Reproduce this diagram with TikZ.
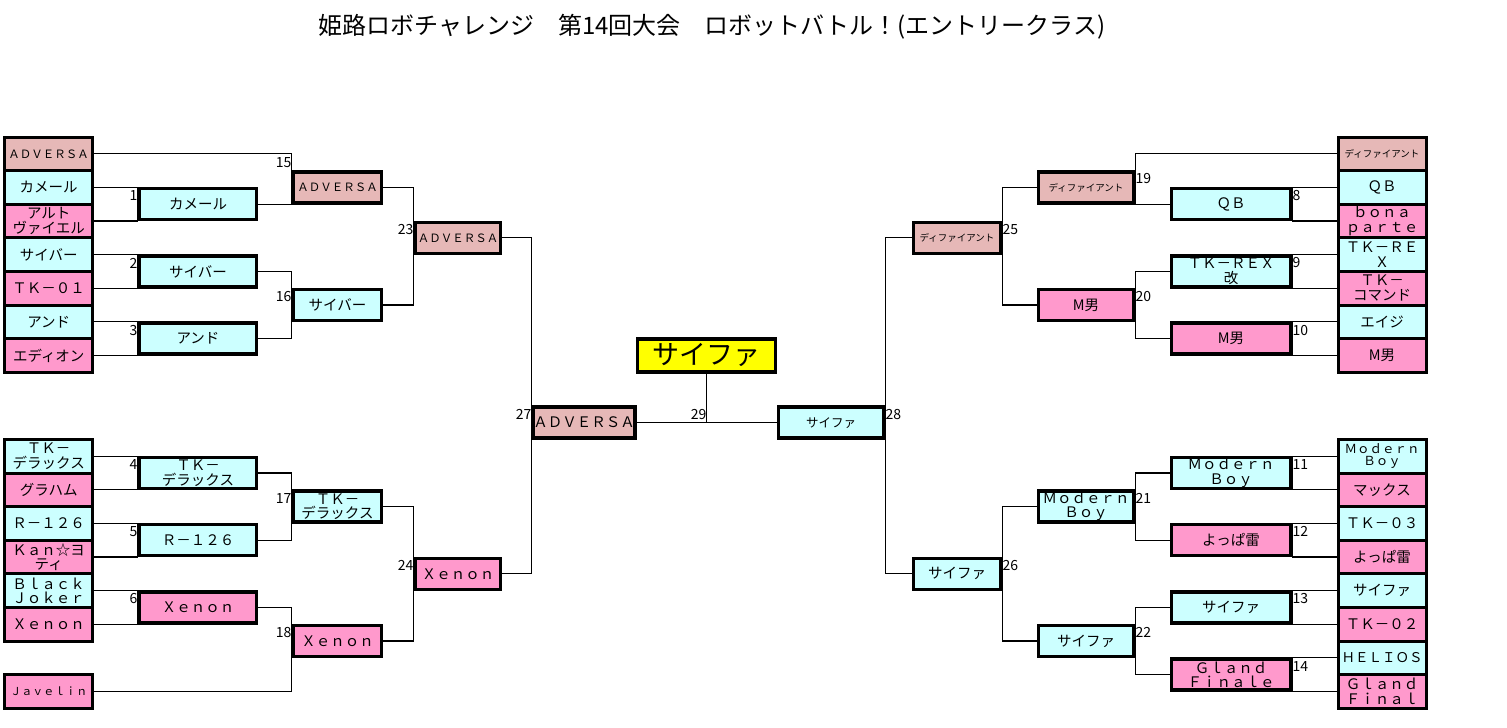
\documentclass[tikz,border=0pt]{standalone}
\usepackage{fontspec}
\setmainfont{Noto Sans CJK JP}
\usepackage{xcolor}
\usetikzlibrary{backgrounds}

\definecolor{rosecell}{HTML}{E6B8B7}
\definecolor{cyancell}{HTML}{CCFFFF}
\definecolor{pinkcell}{HTML}{FF99CC}
\definecolor{champcell}{HTML}{FFFF00}
\newcommand{\fsz}[1]{\fontsize{#1}{#1}\selectfont}

\begin{document}
\begin{tikzpicture}[
    x=1pt, y=-1pt,
    cell/.style={draw, line width=3pt, minimum width=88pt, minimum height=33.6pt, inner sep=0pt, align=center, font=\fsz{14.5}},
    match/.style={draw, line width=3.5pt, minimum height=31pt, inner sep=0pt, align=center, font=\fsz{14.5}},
    link/.style={line width=1.1pt},
    num/.style={inner sep=0.5pt, font=\fsz{14}}
]
    \useasboundingbox (0,0) rectangle (1507,728);

    % Title
    \node[anchor=west, font=\fsz{24}] (title) at (315,27) {姫路ロボチャレンジ　第14回大会　ロボットバトル！(エントリークラス)};

    \begin{scope}[y=-16.8pt, yshift=-137pt]
    % Entries left
    \node[cell, fill=rosecell, font=\fsz{11.5}] (a1) at (48.75,1) {ＡＤＶＥＲＳＡ};
    \node[cell, fill=cyancell] (a2) at (48.75,3) {カメール};
    \node[cell, fill=pinkcell] (a3) at (48.75,5) {アルト\\ヴァイエル};
    \node[cell, fill=cyancell] (a4) at (48.75,7) {サイバー};
    \node[cell, fill=pinkcell] (a5) at (48.75,9) {ＴＫ－０１};
    \node[cell, fill=cyancell] (a6) at (48.75,11) {アンド};
    \node[cell, fill=pinkcell] (a7) at (48.75,13) {エディオン};
    \node[cell, fill=cyancell] (a8) at (48.75,19) {ＴＫ－\\デラックス};
    \node[cell, fill=pinkcell] (a9) at (48.75,21) {グラハム};
    \node[cell, fill=cyancell] (a10) at (48.75,23) {Ｒ－１２６};
    \node[cell, fill=pinkcell] (a11) at (48.75,25) {Ｋａｎ☆ヨ\\ティ};
    \node[cell, fill=cyancell] (a12) at (48.75,27) {Ｂｌａｃｋ\\Ｊｏｋｅｒ};
    \node[cell, fill=pinkcell] (a13) at (48.75,29) {Ｘｅｎｏｎ};
    \node[cell, fill=pinkcell, font=\fsz{11}] (a14) at (48.75,33) {Ｊａｖｅｌｉｎ};

    % Entries right
    \node[cell, fill=rosecell, font=\fsz{9.5}] (b1) at (1382,1) {ディファイアント};
    \node[cell, fill=cyancell] (b2) at (1382,3) {ＱＢ};
    \node[cell, fill=pinkcell] (b3) at (1382,5) {ｂｏｎａ\\ｐａｒｔｅ};
    \node[cell, fill=cyancell] (b4) at (1382,7) {ＴＫ－ＲＥ\\Ｘ};
    \node[cell, fill=pinkcell] (b5) at (1382,9) {ＴＫ－\\コマンド};
    \node[cell, fill=cyancell] (b6) at (1382,11) {エイジ};
    \node[cell, fill=pinkcell] (b7) at (1382,13) {M男};
    \node[cell, fill=cyancell, font=\fsz{12.5}] (b8) at (1382,19) {Ｍｏｄｅｒｎ\\Ｂｏｙ};
    \node[cell, fill=pinkcell] (b9) at (1382,21) {マックス};
    \node[cell, fill=cyancell] (b10) at (1382,23) {ＴＫ－０３};
    \node[cell, fill=pinkcell] (b11) at (1382,25) {よっぱ雷};
    \node[cell, fill=cyancell] (b12) at (1382,27) {サイファ};
    \node[cell, fill=pinkcell] (b13) at (1382,29) {ＴＫ－０２};
    \node[cell, fill=cyancell, font=\fsz{13.5}] (b14) at (1382,31) {ＨＥＬＩＯＳ};
    \node[cell, fill=pinkcell] (b15) at (1382,33) {Ｇｌａｎｄ\\Ｆｉｎａｌ};

    % Round 1
    \node[match, fill=cyancell, minimum width=117pt] (m1) at (198,4) {カメール};
    \node[match, fill=cyancell, minimum width=117pt] (m2) at (198,8) {サイバー};
    \node[match, fill=cyancell, minimum width=117pt] (m3) at (198,12) {アンド};
    \node[match, fill=cyancell, minimum width=117pt] (m4) at (198,20) {ＴＫ－\\デラックス};
    \node[match, fill=cyancell, minimum width=117pt] (m5) at (198,24) {Ｒ－１２６};
    \node[match, fill=pinkcell, minimum width=117pt] (m6) at (198,28) {Ｘｅｎｏｎ};
    \node[match, fill=cyancell, minimum width=119pt] (m8) at (1231,4) {ＱＢ};
    \node[match, fill=cyancell, minimum width=119pt] (m9) at (1231,8) {ＴＫ－ＲＥＸ\\改};
    \node[match, fill=pinkcell, minimum width=119pt] (m10) at (1231,12) {M男};
    \node[match, fill=cyancell, minimum width=119pt] (m11) at (1231,20) {Ｍｏｄｅｒｎ\\Ｂｏｙ};
    \node[match, fill=pinkcell, minimum width=119pt] (m12) at (1231,24) {よっぱ雷};
    \node[match, fill=cyancell, minimum width=119pt] (m13) at (1231,28) {サイファ};
    \node[match, fill=pinkcell, minimum width=119pt] (m14) at (1231,32) {Ｇｌａｎｄ\\Ｆｉｎａｌｅ};

    % Round 2
    \node[match, fill=rosecell, minimum width=88pt, font=\fsz{11.5}] (m15) at (337.5,3) {ＡＤＶＥＲＳＡ};
    \node[match, fill=cyancell, minimum width=88pt] (m16) at (337.5,10) {サイバー};
    \node[match, fill=cyancell, minimum width=88pt] (m17) at (337.5,22) {ＴＫ－\\デラックス};
    \node[match, fill=pinkcell, minimum width=88pt] (m18) at (337.5,30) {Ｘｅｎｏｎ};
    \node[match, fill=rosecell, minimum width=95pt, font=\fsz{9.5}] (m19) at (1086,3) {ディファイアント};
    \node[match, fill=pinkcell, minimum width=95pt] (m20) at (1086,10) {M男};
    \node[match, fill=cyancell, minimum width=95pt] (m21) at (1086,22) {Ｍｏｄｅｒｎ\\Ｂｏｙ};
    \node[match, fill=cyancell, minimum width=95pt] (m22) at (1086,30) {サイファ};

    % Round 3
    \node[match, fill=rosecell, minimum width=85pt, font=\fsz{11.5}] (m23) at (458,6) {ＡＤＶＥＲＳＡ};
    \node[match, fill=pinkcell, minimum width=85pt] (m24) at (458,26) {Ｘｅｎｏｎ};
    \node[match, fill=rosecell, minimum width=87pt, font=\fsz{9.5}] (m25) at (957,6) {ディファイアント};
    \node[match, fill=cyancell, minimum width=87pt] (m26) at (957,26) {サイファ};

    % Semi finals and final
    \node[match, fill=rosecell, minimum width=101pt] (m27) at (584,17) {ＡＤＶＥＲＳＡ};
    \node[match, fill=cyancell, minimum width=105pt, font=\fsz{12.5}] (m28) at (831,17) {サイファ};
    \node[match, fill=champcell, minimum width=138pt, minimum height=33pt, font=\fsz{27}] (m29) at (706.5,13) {サイファ};

    % Match numbers
    \node[num, anchor=east] (n1) at (138,3.5) {1};
    \node[num, anchor=east] (n2) at (138,7.5) {2};
    \node[num, anchor=east] (n3) at (138,11.5) {3};
    \node[num, anchor=east] (n4) at (138,19.5) {4};
    \node[num, anchor=east] (n5) at (138,23.5) {5};
    \node[num, anchor=east] (n6) at (138,27.5) {6};
    \node[num, anchor=east] (n15) at (292,1.5) {15};
    \node[num, anchor=east] (n16) at (292,9.5) {16};
    \node[num, anchor=east] (n17) at (292,21.5) {17};
    \node[num, anchor=east] (n18) at (292,29.5) {18};
    \node[num, anchor=east] (n23) at (414,5.5) {23};
    \node[num, anchor=east] (n24) at (414,25.5) {24};
    \node[num, anchor=east] (n27) at (532,16.5) {27};
    \node[num, anchor=east] (n29) at (707,16.5) {29};
    \node[num, anchor=west] (n28) at (885,16.5) {28};
    \node[num, anchor=west] (n25) at (1002,5.5) {25};
    \node[num, anchor=west] (n26) at (1002,25.5) {26};
    \node[num, anchor=west] (n19) at (1135,2.5) {19};
    \node[num, anchor=west] (n20) at (1135,9.5) {20};
    \node[num, anchor=west] (n21) at (1135,21.5) {21};
    \node[num, anchor=west] (n22) at (1135,29.5) {22};
    \node[num, anchor=west] (n8) at (1292,3.5) {8};
    \node[num, anchor=west] (n9) at (1292,7.5) {9};
    \node[num, anchor=west] (n10) at (1292,11.5) {10};
    \node[num, anchor=west] (n11) at (1292,19.5) {11};
    \node[num, anchor=west] (n12) at (1292,23.5) {12};
    \node[num, anchor=west] (n13) at (1292,27.5) {13};
    \node[num, anchor=west] (n14) at (1292,31.5) {14};
    \end{scope}

    % Brackets
    \begin{scope}[on background layer]
    \fill[white] (0,0) rectangle (1507,728);
    % left half
    \draw[link] (a2.east) -- (a2.east -| m1.west) -- (a3.east -| m1.west) -- (a3.east);
    \draw[link] (a4.east) -- (a4.east -| m2.west) -- (a5.east -| m2.west) -- (a5.east);
    \draw[link] (a6.east) -- (a6.east -| m3.west) -- (a7.east -| m3.west) -- (a7.east);
    \draw[link] (a8.east) -- (a8.east -| m4.west) -- (a9.east -| m4.west) -- (a9.east);
    \draw[link] (a10.east) -- (a10.east -| m5.west) -- (a11.east -| m5.west) -- (a11.east);
    \draw[link] (a12.east) -- (a12.east -| m6.west) -- (a13.east -| m6.west) -- (a13.east);
    \draw[link] (a1.east) -- (a1.east -| m15.west) -- (m1.east -| m15.west) -- (m1.east);
    \draw[link] (m2.east) -- (m2.east -| m16.west) -- (m3.east -| m16.west) -- (m3.east);
    \draw[link] (m4.east) -- (m4.east -| m17.west) -- (m5.east -| m17.west) -- (m5.east);
    \draw[link] (m6.east) -- (m6.east -| m18.west) -- (a14.east -| m18.west) -- (a14.east);
    \draw[link] (m15.east) -- (m15.east -| m23.west) -- (m16.east -| m23.west) -- (m16.east);
    \draw[link] (m17.east) -- (m17.east -| m24.west) -- (m18.east -| m24.west) -- (m18.east);
    \draw[link] (m23.east) -- (m23.east -| m27.west) -- (m24.east -| m27.west) -- (m24.east);
    % right half
    \draw[link] (b2.west) -- (b2.west -| m8.east) -- (b3.west -| m8.east) -- (b3.west);
    \draw[link] (b4.west) -- (b4.west -| m9.east) -- (b5.west -| m9.east) -- (b5.west);
    \draw[link] (b6.west) -- (b6.west -| m10.east) -- (b7.west -| m10.east) -- (b7.west);
    \draw[link] (b8.west) -- (b8.west -| m11.east) -- (b9.west -| m11.east) -- (b9.west);
    \draw[link] (b10.west) -- (b10.west -| m12.east) -- (b11.west -| m12.east) -- (b11.west);
    \draw[link] (b12.west) -- (b12.west -| m13.east) -- (b13.west -| m13.east) -- (b13.west);
    \draw[link] (b14.west) -- (b14.west -| m14.east) -- (b15.west -| m14.east) -- (b15.west);
    \draw[link] (b1.west) -- (b1.west -| m19.east) -- (m8.west -| m19.east) -- (m8.west);
    \draw[link] (m9.west) -- (m9.west -| m20.east) -- (m10.west -| m20.east) -- (m10.west);
    \draw[link] (m11.west) -- (m11.west -| m21.east) -- (m12.west -| m21.east) -- (m12.west);
    \draw[link] (m13.west) -- (m13.west -| m22.east) -- (m14.west -| m22.east) -- (m14.west);
    \draw[link] (m19.west) -- (m19.west -| m25.east) -- (m20.west -| m25.east) -- (m20.west);
    \draw[link] (m21.west) -- (m21.west -| m26.east) -- (m22.west -| m26.east) -- (m22.west);
    \draw[link] (m25.west) -- (m25.west -| m28.east) -- (m26.west -| m28.east) -- (m26.west);
    % final
    \draw[link] (m27.east) -- (m28.west);
    \draw[link] (m29.south) -- (m29.south |- m27.east);
    \end{scope}

\end{tikzpicture}
\end{document}
